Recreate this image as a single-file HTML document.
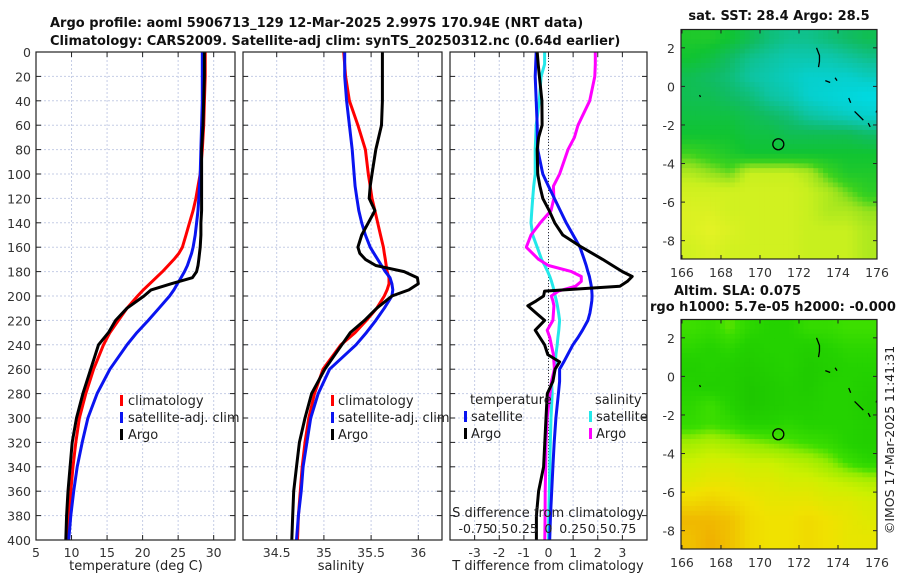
<!DOCTYPE html>
<html><head><meta charset="utf-8"><style>
html,body{margin:0;padding:0;background:#fff;}
svg{display:block;font-family:"DejaVu Sans","Liberation Sans",sans-serif;}
</style></head><body>
<svg id="fig" width="900" height="580" viewBox="0 0 900 580" xmlns="http://www.w3.org/2000/svg">
<rect width="900" height="580" fill="#fff"/>
<text x="50" y="27" font-size="13" font-weight="bold" fill="#111">Argo profile: aoml 5906713_129 12-Mar-2025 2.997S 170.94E (NRT data)</text>
<text x="50" y="45" font-size="13" font-weight="bold" fill="#111">Climatology: CARS2009. Satellite-adj clim: synTS_20250312.nc (0.64d earlier)</text>
<text x="779" y="20" font-size="13" font-weight="bold" fill="#111" text-anchor="middle">sat. SST: 28.4 Argo: 28.5</text>
<text x="674" y="295" font-size="13" font-weight="bold" fill="#111">Altim. SLA: 0.075</text>
<text x="650" y="311" font-size="13" font-weight="bold" fill="#111">rgo h1000: 5.7e-05 h2000: -0.000</text>
<text x="0" y="0" font-size="12.5" fill="#222" text-anchor="middle" transform="translate(894,440) rotate(-90)">©IMOS 17-Mar-2025 11:41:31</text>
<g id="layer"></g>
</svg>
<script>
// ---- profile data ----
const depths = [0,20,40,60,80,100,110,120,130,140,150,160,165,170,175,180,185,190,195,200,210,220,230,240,260,280,300,320,340,360,380,400];
const climT = [28.8,28.8,28.7,28.6,28.4,28.1,27.8,27.5,27.1,26.6,26.1,25.6,25.1,24.4,23.6,22.8,21.9,21.0,20.1,19.3,17.8,16.6,15.4,14.5,13.1,12.0,11.1,10.6,10.2,9.9,9.6,9.4];
const satT = [28.4,28.4,28.4,28.3,28.2,28.1,28.0,27.9,27.8,27.6,27.4,27.1,26.9,26.6,26.3,25.9,25.4,24.9,24.4,23.8,22.3,20.8,19.2,17.8,15.4,13.6,12.3,11.5,10.8,10.3,9.9,9.6];
const argoT = [28.7,28.7,28.6,28.5,28.3,28.3,28.3,28.3,28.3,28.2,28.2,28.1,28.0,27.9,27.8,27.6,27.0,24.0,21.2,20.2,17.8,16.2,15.2,13.8,12.7,11.6,10.7,10.1,9.8,9.5,9.3,9.2];
const climS = [35.21,35.23,35.27,35.36,35.44,35.47,35.49,35.51,35.54,35.57,35.60,35.63,35.64,35.65,35.66,35.67,35.69,35.69,35.67,35.64,35.56,35.45,35.33,35.18,34.99,34.90,34.84,34.80,34.77,34.75,34.73,34.72];
const satS = [35.22,35.22,35.24,35.27,35.30,35.32,35.33,35.35,35.37,35.40,35.44,35.49,35.53,35.57,35.61,35.65,35.70,35.72,35.73,35.72,35.64,35.55,35.45,35.34,35.06,34.94,34.86,34.82,34.78,34.76,34.73,34.71];
const argoS = [35.62,35.62,35.62,35.61,35.55,35.51,35.49,35.48,35.54,35.47,35.40,35.36,35.38,35.44,35.55,35.85,35.99,36.00,35.90,35.72,35.56,35.43,35.28,35.19,35.01,34.87,34.80,34.74,34.71,34.68,34.67,34.66];
// ---- difference data ----
const depthsDiff = [0,10,20,40,60,70,80,100,110,120,130,140,150,160,170,175,180,184,188,192,196,200,204,208,214,220,228,234,240,248,254,260,270,280,300,320,340,360,380,400];
const satTdiff = [-0.5,-0.52,-0.54,-0.5,-0.46,-0.45,-0.44,-0.23,0,0.24,0.48,0.72,1.0,1.28,1.45,1.53,1.6,1.66,1.7,1.74,1.76,1.77,1.76,1.73,1.68,1.6,1.38,1.2,0.99,0.78,0.62,0.45,0.45,0.4,0.3,0.23,0.18,0.13,0.08,0.05];
const argoTdiff = [-0.46,-0.42,-0.37,-0.27,-0.26,-0.4,-0.46,-0.44,-0.35,-0.23,0.03,0.25,0.58,1.35,2.2,2.6,3.0,3.4,3.2,2.9,-0.16,-0.2,-0.5,-0.84,-0.5,-0.16,-0.54,-0.35,-0.16,-0.03,0.45,0.27,0.18,-0.05,-0.1,-0.15,-0.2,-0.4,-0.49,-0.49];
const satSdiff = [-0.04,-0.04,-0.075,-0.093,-0.125,-0.13,-0.135,-0.135,-0.15,-0.16,-0.17,-0.178,-0.16,-0.115,-0.07,-0.038,-0.008,0.013,0.03,0.045,0.058,0.068,0.08,0.09,0.103,0.113,0.105,0.095,0.088,0.075,0.07,0.068,0.03,0.038,0.025,0.018,0.013,0.008,0.003,0];
const argoSdiff = [0.475,0.475,0.47,0.418,0.3,0.263,0.198,0.113,0.05,0.055,0.025,-0.083,-0.178,-0.225,-0.1,0,0.233,0.333,0.333,0.275,0.1,0.028,0.045,0.055,0.05,0.045,-0.013,0.013,0.028,0.05,0.055,0.06,0.03,0.015,-0.013,-0.025,-0.028,-0.033,-0.035,-0.038];
// ---- tick labels ----
const depthTicks = [0,20,40,60,80,100,120,140,160,180,200,220,240,260,280,300,320,340,360,380,400];
const tempTicks = [5,10,15,20,25,30];
const salTicks = [34.5,35,35.5,36];
const tdiffTicks = [-3,-2,-1,0,1,2,3];
const sdiffTicks = [-0.75,-0.5,-0.25,0,0.25,0.5,0.75];
const sdiffLabels = ["-0.75","0.5","0.25","0","0.25","0.5","0.75"];
const lonTicks = [166,168,170,172,174,176];
const latTicks = [2,0,-2,-4,-6,-8];
// ---- map data (rows from 3N southward, cols 166E..176E, 1 degree) ----
const sstGrid = [
[28.3,28.3,28.4,28.6,28.8,28.9,28.9,28.8,28.7,28.6],
[28.4,28.5,28.7,28.9,29.0,29.1,29.1,29.1,29.0,28.9],
[28.6,28.7,28.8,29.0,29.1,29.2,29.3,29.3,29.3,29.2],
[28.6,28.6,28.7,28.8,29.0,29.1,29.3,29.4,29.5,29.6],
[28.5,28.5,28.5,28.6,28.7,28.8,29.0,29.1,29.2,29.3],
[28.4,28.4,28.4,28.5,28.5,28.6,28.6,28.6,28.6,28.7],
[28.1,28.2,28.3,28.4,28.4,28.4,28.4,28.4,28.4,28.4],
[27.8,27.9,28.0,27.7,27.7,27.7,27.8,28.1,28.3,28.3],
[27.6,27.6,27.6,27.6,27.6,27.6,27.7,27.8,28.0,28.2],
[27.5,27.5,27.6,27.6,27.6,27.6,27.7,27.8,27.8,27.9],
[27.5,27.4,27.5,27.6,27.6,27.6,27.7,27.7,27.7,27.8],
[27.6,27.5,27.6,27.6,27.6,27.6,27.7,27.7,27.7,27.8]];
const slaGrid = [
[0.03,0.02,0.04,0.01,0.0,0.0,0.02,0.02,0.03,0.03],
[0.01,0.0,0.01,-0.01,0.0,0.0,-0.01,0.0,0.01,0.01],
[-0.01,0.0,-0.01,-0.02,-0.01,0.0,-0.02,-0.01,0.0,0.0],
[0.0,-0.01,-0.01,-0.03,-0.02,-0.01,-0.02,0.0,0.0,-0.01],
[0.01,0.03,0.0,-0.03,-0.02,-0.01,-0.01,0.0,0.0,-0.02],
[0.02,0.03,0.02,0.0,0.0,0.01,0.0,0.0,0.0,-0.01],
[0.07,0.08,0.07,0.06,0.05,0.04,0.03,0.02,0.0,-0.01],
[0.10,0.11,0.11,0.10,0.10,0.09,0.08,0.06,0.03,0.01],
[0.12,0.13,0.13,0.12,0.12,0.11,0.11,0.10,0.09,0.08],
[0.15,0.16,0.15,0.14,0.13,0.13,0.13,0.12,0.12,0.11],
[0.19,0.19,0.18,0.15,0.14,0.14,0.15,0.14,0.13,0.12],
[0.18,0.2,0.18,0.15,0.14,0.14,0.15,0.14,0.13,0.13]];
const floatLon = 170.94, floatLat = -3.0;

const NS = "http://www.w3.org/2000/svg";
const layer = document.getElementById('layer');
function mk(tag, attrs, parent){const e=document.createElementNS(NS,tag);for(const k in attrs)e.setAttribute(k,attrs[k]);(parent||layer).appendChild(e);return e;}

const Y0=52, Y1=540;
const yD = d => Y0 + d*(Y1-Y0)/400;
const P1={x0:36,x1:235}, P2={x0:243,x1:442}, P3={x0:450,x1:647};
const tx = t => P1.x0 + (t-5)*(P1.x1-P1.x0)/28;
const sx = s => P2.x0 + (s-34.143)*94.4;
const dx = v => P3.x0 + (v+4)*(P3.x1-P3.x0)/8;
const sdx = s => dx(s*4);

function panel(P, xTicks, xf, name){
  const g = mk('g',{});  
  for(const d of depthTicks){ if(d>0&&d<400) mk('line',{x1:P.x0,x2:P.x1,y1:yD(d),y2:yD(d),stroke:'#c5cde6','stroke-width':1,'stroke-dasharray':'2,2'},g);}
  for(const t of xTicks){const x=xf(t); if(x>P.x0&&x<P.x1) mk('line',{x1:x,x2:x,y1:Y0,y2:Y1,stroke:'#c5cde6','stroke-width':1,'stroke-dasharray':'2,2'},g);}
  for(const d of depthTicks){ mk('line',{x1:P.x0,x2:P.x0+5,y1:yD(d),y2:yD(d),stroke:'#222'},g); mk('line',{x1:P.x1-5,x2:P.x1,y1:yD(d),y2:yD(d),stroke:'#222'},g);}
  for(const t of xTicks){const x=xf(t); mk('line',{x1:x,x2:x,y1:Y1-5,y2:Y1,stroke:'#222'},g); mk('line',{x1:x,x2:x,y1:Y0,y2:Y0+5,stroke:'#222'},g);
    const lb=mk('text',{x:x,y:Y1+17,'font-size':12.5,'text-anchor':'middle',fill:'#333'},g); lb.textContent=String(t);}
  return g;
}
function frame(P){ const r=mk('rect',{x:P.x0,y:Y0,width:P.x1-P.x0,height:Y1-Y0,fill:'none',stroke:'#222','stroke-width':1.2});   }
function line(xs, ds, xf, color, name, w){
  const pts = ds.map((d,i)=>xf(xs[i]).toFixed(1)+','+yD(d).toFixed(1)).join(' ');
  const p = mk('polyline',{points:pts,fill:'none',stroke:color,'stroke-width':w||3,'stroke-linejoin':'round'});
   
}
function txt(x,y,s,opt,name){const t=mk('text',Object.assign({x:x,y:y,'font-size':13,fill:'#222'},opt||{}));t.textContent=s;return t;}
function legendMark(x,y,color){const r=mk('rect',{x:x,y:y-10,width:3,height:11,fill:color});}

for(const d of depthTicks){ txt(31,yD(d)+5,String(d),{'text-anchor':'end','font-size':12.5,fill:'#333'},'depth-tick-label'); }

// panel 1 temperature
panel(P1,tempTicks,tx,'temperature-panel');
line(climT,depths,tx,'#f00','climatology-temperature-line');
line(satT,depths,tx,'#0a14f0','satellite-temperature-line');
line(argoT,depths,tx,'#000','argo-temperature-line');
frame(P1);
txt(136,570,'temperature (deg C)',{'text-anchor':'middle'},'temperature-axis-title');
legendMark(120,405,'#f00'); txt(128,405,'climatology',{},'legend-climatology');
legendMark(120,422,'#0a14f0'); txt(128,422,'satellite-adj. clim',{},'legend-satellite');
legendMark(120,439,'#000'); txt(128,439,'Argo',{},'legend-argo');

// panel 2 salinity
panel(P2,salTicks,sx,'salinity-panel');
line(climS,depths,sx,'#f00','climatology-salinity-line');
line(satS,depths,sx,'#0a14f0','satellite-salinity-line');
line(argoS,depths,sx,'#000','argo-salinity-line');
frame(P2);
txt(341,570,'salinity',{'text-anchor':'middle'},'salinity-axis-title');
legendMark(331,405,'#f00'); txt(338,405,'climatology',{},'legend-climatology');
legendMark(331,422,'#0a14f0'); txt(338,422,'satellite-adj. clim',{},'legend-satellite');
legendMark(331,439,'#000'); txt(338,439,'Argo',{},'legend-argo');

// panel 3 differences
panel(P3,tdiffTicks,dx,'difference-panel');
mk('line',{x1:dx(0),x2:dx(0),y1:Y0,y2:Y1,stroke:'#333','stroke-width':1,'stroke-dasharray':'1,2'});
line(satSdiff,depthsDiff,sdx,'#22e8ea','satellite-salinity-diff-line');
line(argoSdiff,depthsDiff,sdx,'#f0f','argo-salinity-diff-line');
line(satTdiff,depthsDiff,dx,'#0a14f0','satellite-temperature-diff-line');
line(argoTdiff,depthsDiff,dx,'#000','argo-temperature-diff-line');
frame(P3);
txt(548,570,'T difference from climatology',{'text-anchor':'middle'},'t-diff-axis-title');
txt(548,517,'S difference from climatology',{'text-anchor':'middle'},'s-diff-axis-title');
sdiffTicks.forEach((s,i)=>{ txt(sdx(s),533,sdiffLabels[i],{'text-anchor':'middle','font-size':12.5},'s-diff-tick-label'); });
txt(470,404,'temperature',{},'legend-temperature-header');
legendMark(464,421,'#0a14f0'); txt(471,421,'satellite',{},'legend-t-satellite');
legendMark(464,438,'#000'); txt(471,438,'Argo',{},'legend-t-argo');
txt(595,404,'salinity',{},'legend-salinity-header');
legendMark(589,421,'#22e8ea'); txt(596,421,'satellite',{},'legend-s-satellite');
legendMark(589,438,'#f0f'); txt(596,438,'Argo',{},'legend-s-argo');

// ---- maps ----
function lerpColor(stops, v){
  if(v<=stops[0][0]) return stops[0][1];
  for(let i=1;i<stops.length;i++){ if(v<=stops[i][0]){const a=stops[i-1],b=stops[i];const f=(v-a[0])/(b[0]-a[0]);
    return a[1].map((x,k)=>Math.round(x+(b[1][k]-x)*f));} }
  return stops[stops.length-1][1];
}
const sstStops=[[27.4,[228,242,36]],[27.7,[200,240,30]],[27.9,[150,226,30]],[28.1,[60,210,30]],[28.4,[16,196,50]],[28.7,[16,188,100]],[29.0,[14,196,160]],[29.3,[6,208,205]],[29.6,[0,218,226]]];
const slaStops=[[-0.03,[30,200,0]],[0.0,[36,210,0]],[0.03,[60,222,0]],[0.06,[150,236,0]],[0.1,[205,240,0]],[0.14,[240,226,0]],[0.2,[240,176,0]]];

function sample(grid, fr, fc){
  const R=grid.length, C=grid[0].length;
  let r=Math.min(Math.max(fr-0.5,0),R-1), c=Math.min(Math.max(fc-0.5,0),C-1);
  const r0=Math.floor(r), c0=Math.floor(c), r1=Math.min(r0+1,R-1), c1=Math.min(c0+1,C-1);
  const a=r-r0, b=c-c0;
  return grid[r0][c0]*(1-a)*(1-b)+grid[r0][c1]*(1-a)*b+grid[r1][c0]*a*(1-b)+grid[r1][c1]*a*b;
}
function drawMap(M, grid, stops, name){
  const g=mk('g',{});  
  const lonX = lon => M.x0 + (lon-165.95)*(M.x1-M.x0)/10.05;
  const latY = lat => M.y0 + (2.95-lat)*(M.y1-M.y0)/11.9;
  const rows=grid.length, cols=grid[0].length, sub=4;
  const cw=(M.x1-M.x0)/(cols*sub), ch=(M.y1-M.y0)/(rows*sub);
  for(let r=0;r<rows*sub;r++) for(let c=0;c<cols*sub;c++){
    const v=sample(grid,(r+0.5)/sub,(c+0.5)/sub);
    const col=lerpColor(stops,v);
    const cell=mk('rect',{x:(M.x0+c*cw).toFixed(2),y:(M.y0+r*ch).toFixed(2),width:(cw+0.5).toFixed(2),height:(ch+0.5).toFixed(2),fill:'rgb('+col.join(',')+')'},g);
    
    
  }
  const coast=[[[172.9,2.0],[173.05,1.6],[173.05,1.3],[173.0,1.0]],[[173.35,0.3],[173.6,0.2]],[[173.85,0.45],[173.95,0.3]],[[174.55,-0.6],[174.65,-0.85]],[[174.85,-1.3],[175.3,-1.75]],[[175.55,-1.9],[175.65,-2.1]],[[175.95,-1.35],[176.0,-1.25]],[[166.9,-0.45],[166.95,-0.55]]];
  coast.forEach(seg=>{const p=mk('polyline',{points:seg.map(q=>lonX(q[0])+','+latY(q[1])).join(' '),fill:'none',stroke:'#000','stroke-width':1.3},g);});
  const fc=mk('circle',{cx:lonX(floatLon),cy:latY(floatLat),r:5.5,fill:'none',stroke:'#000','stroke-width':1.3},g);
   
  const fr=mk('rect',{x:M.x0,y:M.y0,width:M.x1-M.x0,height:M.y1-M.y0,fill:'none',stroke:'#222','stroke-width':1.2},g);
   
  lonTicks.forEach(l=>{const x=lonX(l); mk('line',{x1:x,x2:x,y1:M.y1,y2:M.y1-4,stroke:'#222'},g); mk('line',{x1:x,x2:x,y1:M.y0,y2:M.y0+4,stroke:'#222'},g);
    txt(x,M.y1+18,String(l),{'text-anchor':'middle','font-size':12.5,fill:'#333'},'lon-tick-label');});
  latTicks.forEach(l=>{const y=latY(l); mk('line',{x1:M.x0,x2:M.x0+4,y1:y,y2:y,stroke:'#222'},g); mk('line',{x1:M.x1,x2:M.x1-4,y1:y,y2:y,stroke:'#222'},g);
    txt(M.x0-6,y+5,String(l),{'text-anchor':'end','font-size':12.5,fill:'#333'},'lat-tick-label');});
}
drawMap({x0:681,x1:877,y0:29.5,y1:259},sstGrid,sstStops,'sst-map');
drawMap({x0:681,x1:877,y0:319.5,y1:549},slaGrid,slaStops,'sla-map');
</script>
</body></html>
